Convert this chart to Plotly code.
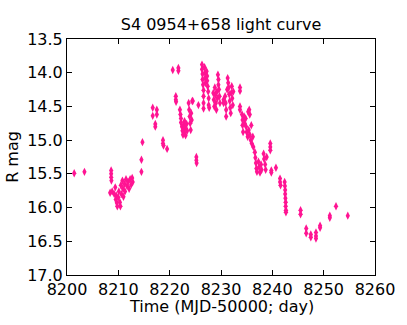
import plotly.graph_objects as go

# light curve of S4 0954+658, R band
mjd = [
    8201.4, 8203.4,
    8208.6, 8208.6, 8208.6, 8208.65, 8208.4, 8208.8, 8209.2, 8209.6,
    8209.4, 8209.5, 8209.7, 8209.8, 8210.0, 8210.1, 8210.3, 8210.4, 8210.5, 8210.6,
    8210.8, 8210.9, 8211.0, 8211.2, 8211.3, 8211.5, 8211.7, 8211.9, 8212.1, 8212.3,
    8212.5, 8212.7, 8212.8,
    8214.5, 8214.5, 8214.7, 8216.7, 8216.7, 8217.5, 8217.5, 8217.2, 8217.2,
    8218.7, 8218.7, 8218.8, 8219.5, 8220.6, 8221.7, 8221.7, 8221.2, 8221.2, 8221.25,
    8222.0, 8222.1, 8222.2, 8222.2, 8222.4, 8222.5, 8222.6, 8222.7, 8222.8, 8222.9,
    8223.0, 8223.1, 8223.3, 8223.4, 8223.7, 8223.8, 8223.9, 8224.0, 8224.1, 8224.2,
    8224.3, 8224.4, 8224.5,
    8225.2, 8225.2, 8225.25, 8225.6,
    8226.3, 8226.3, 8226.4, 8226.4, 8226.5, 8226.6, 8226.6, 8226.6, 8226.6, 8226.8,
    8226.9, 8226.9, 8227.0, 8227.2, 8227.3, 8227.3, 8227.4, 8227.5, 8227.6, 8227.6,
    8227.7,
    8228.5, 8228.6, 8228.7, 8228.8, 8228.9, 8229.0, 8229.1, 8229.2, 8229.3, 8229.4,
    8229.5, 8229.5, 8229.6, 8229.7, 8229.8, 8230.5, 8230.5,
    8230.8, 8230.9, 8231.0, 8231.0, 8231.2, 8231.3, 8231.4, 8231.5, 8231.6, 8231.7,
    8231.8, 8231.9, 8232.0, 8232.1, 8232.2, 8232.3, 8232.4,
    8233.7, 8233.7, 8233.7, 8233.7,
    8234.1, 8234.2, 8234.2, 8234.3, 8234.5, 8234.6, 8234.8, 8234.9, 8235.0, 8235.3,
    8235.5, 8235.6, 8235.2, 8235.4, 8235.6, 8235.8, 8235.9, 8236.0, 8236.2, 8236.3,
    8236.6, 8236.7, 8236.8, 8236.9, 8237.0, 8237.3, 8237.4, 8237.6, 8237.8, 8237.9,
    8238.3, 8238.4, 8238.6, 8238.7, 8238.9,
    8239.6, 8239.6, 8239.6, 8239.8, 8239.8, 8240.7, 8241.5, 8241.5, 8241.6,
    8242.4, 8242.45, 8242.5, 8242.5, 8242.55, 8242.6, 8242.6, 8242.65, 8242.65,
    8245.5, 8245.5, 8246.6, 8246.6, 8247.5, 8247.5, 8248.5, 8248.5, 8248.5,
    8249.3, 8249.3, 8251.2, 8251.2, 8252.4, 8254.7,
]
rmag = [
    15.49, 15.47,
    15.45, 15.50, 15.55, 15.60, 15.78, 15.76, 15.80, 15.82,
    15.70, 15.88, 15.93, 15.98, 15.85, 15.76, 15.92, 15.98, 15.67, 15.80,
    15.60, 15.72, 15.84, 15.65, 15.76, 15.58, 15.68, 15.62, 15.72, 15.58,
    15.66, 15.56, 15.62,
    15.29, 15.47, 15.03, 14.52, 14.64, 14.55, 14.62, 14.76, 14.80,
    15.00, 15.05, 15.08, 15.13, 13.96, 13.93, 13.97, 14.35, 14.40, 14.43,
    14.55, 14.62, 14.68, 14.74, 14.80, 14.86, 14.92, 14.78, 14.88, 14.72,
    14.82, 14.93, 14.76, 14.86, 14.45, 14.55, 14.65, 14.75, 14.85, 14.60,
    14.70, 14.42, 14.42,
    15.25, 15.30, 15.34, 14.48,
    13.88, 13.95, 14.02, 14.10, 14.18, 14.26, 14.35, 14.45, 14.53, 13.92,
    14.00, 14.08, 14.15, 13.98, 14.05, 14.12, 14.20, 14.28, 14.38, 14.48,
    14.52,
    14.30, 14.40, 14.50, 14.22, 14.33, 14.45, 14.55, 14.28, 14.38, 14.03,
    14.10, 14.18, 14.25, 14.35, 14.45, 14.40, 14.45,
    14.35, 14.45, 14.55, 14.65, 14.25, 14.08, 14.15, 14.22, 14.32, 14.42,
    14.52, 14.60, 14.30, 14.20, 14.38, 14.48, 14.28,
    14.22, 14.27, 14.50, 14.55,
    14.62, 14.70, 14.78, 14.88, 14.65, 14.75, 14.68, 14.80, 14.88, 14.58,
    14.55, 14.62, 14.95, 14.85, 14.92, 15.00, 14.78, 15.05, 14.95, 15.10,
    15.18, 15.26, 15.34, 15.42, 15.47, 15.32, 15.40, 15.48, 15.36, 15.44,
    15.20, 15.28, 15.36, 15.44, 15.25,
    15.05, 15.10, 15.15, 15.45, 15.48, 15.41, 15.57, 15.62, 15.67,
    15.62, 15.68, 15.74, 15.80, 15.86, 15.92, 15.98, 16.04, 16.07,
    16.04, 16.10, 16.31, 16.38, 16.40, 16.44, 16.37, 16.42, 16.46,
    16.27, 16.30, 16.12, 16.15, 15.98, 16.12,
]

x_ticks = [8200, 8210, 8220, 8230, 8240, 8250, 8260]
y_ticks = [13.5, 14.0, 14.5, 15.0, 15.5, 16.0, 16.5, 17.0]

FONT = dict(family="DejaVu Sans", size=16, color="black")

fig = go.Figure()
fig.add_trace(go.Scatter(
    x=mjd, y=rmag, mode="markers",
    marker=dict(symbol="diamond-tall", size=6, color="#FF1493",
                line=dict(width=0)),
))

axis_common = dict(
    showline=True, linecolor="black", linewidth=1, mirror="allticks",
    ticks="inside", ticklen=5, tickcolor="black", showgrid=False,
    zeroline=False, tickfont=FONT, automargin=False,
)
fig.update_xaxes(range=[8200, 8260], tickvals=x_ticks, **axis_common)
fig.update_yaxes(range=[17.0, 13.5], tickvals=y_ticks,
                 ticktext=[f"{v:.1f}" for v in y_ticks],
                 title=dict(text="R mag", font=FONT, standoff=4),
                 **axis_common)

# x title as an annotation so it sits a bit closer to the tick labels
fig.add_annotation(text="Time (MJD-50000; day)", font=FONT, showarrow=False,
                   xref="paper", yref="paper", x=0.5, y=0,
                   xanchor="center", yanchor="middle", yshift=-31)

fig.update_layout(
    width=407, height=325,
    margin=dict(l=67, r=32, t=39, b=50),
    plot_bgcolor="white", paper_bgcolor="white",
    font=FONT, showlegend=False,
    title=dict(text="S4 0954+658 light curve", font=FONT,
               x=0.5, xref="paper", xanchor="center",
               y=0.925, yref="container", yanchor="middle", automargin=False),
)

# the page's default body margin would push the figure 8px off
fig.write_html("out.html", config={"displayModeBar": False},
               post_script="document.body.style.margin='0';")
